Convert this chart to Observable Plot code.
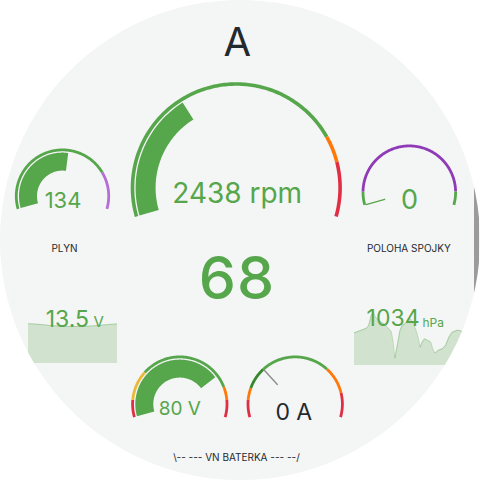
<!DOCTYPE html>
<html><head><meta charset="utf-8">
<script src="https://cdn.jsdelivr.net/npm/d3@7"></script>
<script src="https://cdn.jsdelivr.net/npm/@observablehq/plot@0.6"></script>
<style>
html,body{margin:0;padding:0;background:#fff;}
#wrap{position:relative;width:480px;height:480px;overflow:hidden;clip-path:circle(240px at 240px 240px);background:#f4f5f5;}
#wrap > *{position:absolute;}
</style></head><body><div id="wrap"></div>
<script>
// ---------- DATA ----------
const title = "A";
const centerValue = 68;
const gaugeLabels = ["PLYN", "", "POLOHA SPOJKY", "", ""];
const gaugeValues = [134, 2438, 0, 80, 0];
const gaugeUnits = ["", " rpm", "", " V", " A"];
const gaugeMin = [0, 0, 0, 50, -30];
const gaugeMax = [250, 7000, 100, 90, 70];
const thresholdValues = [
  [-Infinity, 195],
  [-Infinity, 5500, 6000],
  [-Infinity, 8, 92],
  [-Infinity, 54, 61, 83, 86],
  [-Infinity, -20, -13, 0, 40, 56]
];
const thresholdColors = [
  ["#56a64b", "#b36fd6"],
  ["#56a64b", "#ff780a", "#e02f44"],
  ["#56a64b", "#8f3bb8", "#56a64b"],
  ["#e02f44", "#eab839", "#56a64b", "#ff780a", "#e02f44"],
  ["#e02f44", "#ff780a", "#37872d", "#56a64b", "#ff780a", "#e02f44"]
];
const footerLabel = "\\-- --- VN BATERKA --- --/";

const voltValue = "13.5", voltUnit = "V";
const voltSeries = [13.56, 13.52, 13.46, 13.39, 13.34, 13.32, 13.32, 13.33, 13.37, 13.43, 13.5, 13.54];
const pressValue = "1034", pressUnit = "hPa";
const pressTime = [0,20,40,47,55,62,69,80,97,108,121,127,133,141,150,157,166,176,185,194,201,209,216,223,231,242,251,256,262,267,275,289,300,311,322,339,350,359];
const pressSeries = [1033.65,1034.0,1034.35,1034.75,1036.25,1036.75,1036.0,1035.5,1035.0,1034.5,1033.85,1032.25,1029.85,1031.75,1034.0,1034.75,1035.0,1035.35,1035.75,1035.0,1034.25,1033.0,1031.5,1032.25,1032.75,1032.5,1032.25,1031.5,1030.75,1030.65,1031.0,1031.25,1031.75,1033.0,1033.75,1034.05,1033.95,1033.75];

// ---------- LAYOUT ----------
const L = {
  cx: [62, 235.8, 408.8, 179.3, 294.7],
  cy: [195.6, 187.3, 191.7, 403.6, 403.6],
  R: [47.6, 105.6, 47.7, 48.6, 48.6],
  ringW: [2.8, 3.6, 2.8, 2.8, 2.8],
  barW: [18, 20, 18, 18, 18],
  needle: [null, null, "#56a64b", null, "#8a8a8a"],
  valX: [62.5, 236.7, 409, 179.3, 293.3],
  valY: [200, 193.3, 200, 408.3, 411.7],
  valSize: [22, 28, 27, 19, 23],
  valColor: ["#56a64b", "#56a64b", "#56a64b", "#56a64b", "#24292e"],
  labX: [64, 0, 408.3, 0, 0], labY: [248.3, 0, 248.3, 0, 0]
};
const SPAN = 106; // degrees either side of top
const green = "#56a64b", dark = "#24292e", font = "Inter, sans-serif";

function arcPts(i, a0, a1, r) {
  const pts = [];
  const n = Math.max(2, Math.ceil(Math.abs(a1 - a0)) + 1);
  for (let k = 0; k < n; k++) {
    const a = (a0 + (a1 - a0) * k / (n - 1)) * Math.PI / 180;
    pts.push({x: L.cx[i] + r * Math.sin(a), y: L.cy[i] - r * Math.cos(a)});
  }
  return pts;
}

const marks = [];
gaugeValues.forEach((v, i) => {
  const ang = d3.scaleLinear().domain([gaugeMin[i], gaugeMax[i]]).range([-SPAN, SPAN]).clamp(true);
  const ringR = L.R[i] - L.ringW[i] / 2;
  const tv = thresholdValues[i], tc = thresholdColors[i];
  tv.forEach((t, k) => {
    const a0 = k === 0 ? -SPAN : ang(t);
    const a1 = k === tv.length - 1 ? SPAN : ang(tv[k + 1]);
    marks.push(Plot.line(arcPts(i, a0, a1, ringR), {x: "x", y: "y", stroke: tc[k], strokeWidth: L.ringW[i], strokeLinecap: "butt"}));
  });
  const barOuter = L.R[i] - L.ringW[i] - 1.3;
  const barInner = barOuter - L.barW[i];
  const start = ang(Math.max(gaugeMin[i], 0)), end = ang(v);
  let col = tc[0];
  tv.forEach((t, k) => { if (v >= t) col = tc[k]; });
  if (Math.abs(end - start) > 0.5) {
    marks.push(Plot.line(arcPts(i, start, end, (barOuter + barInner) / 2), {x: "x", y: "y", stroke: col, strokeWidth: L.barW[i], strokeLinecap: "butt"}));
  } else {
    const a = end;
    const seg = [barInner, L.R[i] - L.ringW[i]].map(r => arcPts(i, a, a, r)[0]);
    marks.push(Plot.line(seg, {x: "x", y: "y", stroke: L.needle[i] || col, strokeWidth: 1.3}));
  }
  marks.push(Plot.text([v + gaugeUnits[i]], {x: () => L.valX[i], y: () => L.valY[i], text: d => d, fill: L.valColor[i], fontSize: L.valSize[i], fontFamily: font, fontWeight: 400}));
  if (gaugeLabels[i]) marks.push(Plot.text([gaugeLabels[i]], {x: () => L.labX[i], y: () => L.labY[i], text: d => d, fill: dark, fontSize: 10, fontFamily: font}));
});

marks.push(Plot.text([title], {x: () => 236.7, y: () => 43, text: d => d, fill: dark, fontSize: 40, fontFamily: font}));
marks.push(Plot.text([centerValue], {x: () => 236, y: () => 279.5, text: d => d, fill: green, fontSize: 59, fontFamily: font, fontWeight: 500}));
marks.push(Plot.text([footerLabel], {x: () => 236, y: () => 457, text: d => d, fill: dark, fontSize: 10, fontFamily: font}));
marks.push(Plot.text([voltValue], {x: () => 88.5, y: () => 319, text: d => d, fill: green, fontSize: 23, fontFamily: font, textAnchor: "end"}));
marks.push(Plot.text([voltUnit], {x: () => 93, y: () => 322, text: d => d, fill: green, fontSize: 15, fontFamily: font, textAnchor: "start"}));
marks.push(Plot.text([pressValue], {x: () => 419, y: () => 318.5, text: d => d, fill: green, fontSize: 23, fontFamily: font, textAnchor: "end"}));
marks.push(Plot.text([pressUnit], {x: () => 422, y: () => 322.5, text: d => d, fill: green, fontSize: 12, fontFamily: font, textAnchor: "start"}));

const wrap = document.getElementById("wrap");

const sp1 = Plot.plot({
  width: 89, height: 53, margin: 0, x: {axis: null, domain: [0, voltSeries.length - 1]}, y: {axis: null, domain: [10, 14.75]},
  style: {background: "transparent"},
  marks: [
    Plot.areaY(voltSeries, {x: (d, i) => i, y: d => d, fill: green, fillOpacity: 0.22, curve: "monotone-x"}),
    Plot.lineY(voltSeries, {x: (d, i) => i, y: d => d, stroke: green, strokeOpacity: 0.35, strokeWidth: 1, curve: "monotone-x"})
  ]
});
sp1.style.left = "27.7px"; sp1.style.top = "310px";
wrap.appendChild(sp1);

const sp2 = Plot.plot({
  width: 109, height: 55, margin: 0, x: {axis: null, domain: [0, 359]}, y: {axis: null, domain: [1028.75, 1037]},
  style: {background: "transparent"},
  marks: [
    Plot.areaY(pressSeries, {x: (d, i) => pressTime[i], y: d => d, fill: green, fillOpacity: 0.22}),
    Plot.lineY(pressSeries, {x: (d, i) => pressTime[i], y: d => d, stroke: green, strokeOpacity: 0.35, strokeWidth: 1})
  ]
});
sp2.style.left = "354px"; sp2.style.top = "310px";
wrap.appendChild(sp2);

const bar = document.createElement("div");
bar.style.cssText = "left:473.5px;top:183px;width:5px;height:112px;background:#9b9b9b;border-radius:2px;";
wrap.appendChild(bar);

const main = Plot.plot({
  width: 480, height: 480, margin: 0,
  x: {axis: null, domain: [0, 480], range: [0, 480]},
  y: {axis: null, domain: [0, 480], range: [0, 480]},
  style: {background: "transparent"},
  marks
});
main.style.left = "0px"; main.style.top = "0px";
wrap.appendChild(main);
</script></body></html>
